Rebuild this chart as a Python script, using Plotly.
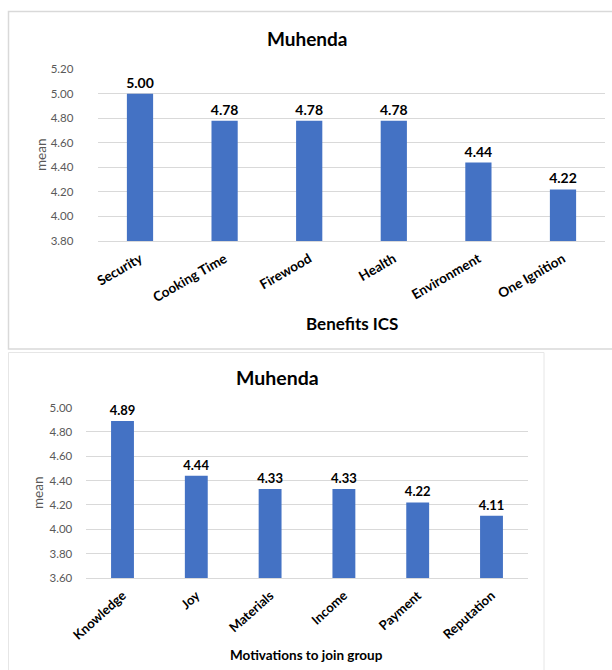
import plotly.graph_objects as go

W, H = 612, 670

# ---- data ----
title_top = "Muhenda"
cats_top = ["Security", "Cooking Time", "Firewood", "Health", "Environment", "One Ignition"]
vals_top = [5.00, 4.78, 4.78, 4.78, 4.44, 4.22]
ticks_top = [3.80, 4.00, 4.20, 4.40, 4.60, 4.80, 5.00, 5.20]
xlabel_top = "Benefits ICS"

title_bot = "Muhenda"
cats_bot = ["Knowledge", "Joy", "Materials", "Income", "Payment", "Reputation"]
vals_bot = [4.89, 4.44, 4.33, 4.33, 4.22, 4.11]
ticks_bot = [3.60, 3.80, 4.00, 4.20, 4.40, 4.60, 4.80, 5.00]
xlabel_bot = "Motivations to join group"

ylabel = "mean"

BAR = "#4472C4"
GRID = "#d9d9d9"
FONT = "Lato, 'DejaVu Sans', sans-serif"


def fx(px):
    return px / W


def fy(py):
    return 1 - py / H


fig = go.Figure()

fig.add_trace(go.Bar(
    x=cats_top, y=vals_top, xaxis="x", yaxis="y",
    marker=dict(color=BAR, line=dict(width=0)), width=0.31,
    text=vals_top, texttemplate="%{y:.2f}", textposition="outside",
    constraintext="none",
    textfont=dict(family=FONT, size=14, color="#000000", weight="bold"),
    cliponaxis=False, showlegend=False, hoverinfo="x+y",
))
fig.add_trace(go.Bar(
    x=cats_bot, y=vals_bot, xaxis="x2", yaxis="y2",
    marker=dict(color=BAR, line=dict(width=0)), width=0.31,
    text=vals_bot, texttemplate="%{y:.2f}", textposition="outside",
    constraintext="none",
    textfont=dict(family=FONT, size=13, color="#000000", weight="bold"),
    cliponaxis=False, showlegend=False, hoverinfo="x+y",
))

xaxis_common = dict(
    type="category", showgrid=False, zeroline=False, automargin=False,
    showline=True, linecolor=GRID, linewidth=1,
    ticks="outside", ticklen=4, tickcolor="rgba(0,0,0,0)", fixedrange=True,
)
yaxis_common = dict(
    showgrid=True, gridcolor=GRID, gridwidth=1, zeroline=False, automargin=False,
    showline=False, ticks="outside", tickcolor="rgba(0,0,0,0)", tickformat=".2f",
)

fig.update_layout(
    width=W, height=H, autosize=False,
    margin=dict(l=0, r=0, t=0, b=0, pad=0),
    paper_bgcolor="white", plot_bgcolor="white",
    bargap=0.69,
    font=dict(family=FONT),
    xaxis=dict(domain=[fx(97.7), fx(605.3)], anchor="y", tickangle=-30,
               tickfont=dict(family=FONT, size=13.5, color="#000000", weight="bold"),
               **xaxis_common),
    yaxis=dict(domain=[fy(241), fy(69.3)], anchor="x",
               range=[3.7995, 5.2005], tickvals=ticks_top, ticklen=21,
               tickfont=dict(family=FONT, size=11.5, color="#595959"),
               **yaxis_common),
    xaxis2=dict(domain=[fx(85.6), fx(528.4)], anchor="y2", tickangle=-42,
                tickfont=dict(family=FONT, size=13, color="#000000", weight="bold"),
                **xaxis_common),
    yaxis2=dict(domain=[fy(578), fy(407.5)], anchor="x2",
                range=[3.5995, 5.0005], tickvals=ticks_bot, ticklen=10,
                tickfont=dict(family=FONT, size=11.5, color="#595959"),
                **yaxis_common),
    shapes=[
        dict(type="rect", xref="paper", yref="paper",
             x0=fx(8.5), x1=fx(630), y0=fy(349), y1=fy(11.5),
             line=dict(color=GRID, width=1.5), fillcolor="rgba(0,0,0,0)", layer="below"),
        dict(type="rect", xref="paper", yref="paper",
             x0=fx(8.5), x1=fx(544), y0=fy(690), y1=fy(352.5),
             line=dict(color="#e6e6e6", width=1), fillcolor="rgba(0,0,0,0)", layer="below"),
    ],
    annotations=[
        dict(text=title_top, xref="paper", yref="paper", x=fx(307), y=fy(38),
             showarrow=False, xanchor="center", yanchor="middle",
             font=dict(family=FONT, size=19, color="#000000", weight="bold")),
        dict(text=title_bot, xref="paper", yref="paper", x=fx(277), y=fy(377),
             showarrow=False, xanchor="center", yanchor="middle",
             font=dict(family=FONT, size=19.5, color="#000000", weight="bold")),
        dict(text=xlabel_top, xref="paper", yref="paper", x=fx(352), y=fy(323),
             showarrow=False, xanchor="center", yanchor="middle",
             font=dict(family=FONT, size=17, color="#000000", weight="bold")),
        dict(text=xlabel_bot, xref="paper", yref="paper", x=fx(306), y=fy(655),
             showarrow=False, xanchor="center", yanchor="middle",
             font=dict(family=FONT, size=13.5, color="#000000", weight="bold")),
        dict(text=ylabel, xref="paper", yref="paper", x=fx(41), y=fy(155),
             showarrow=False, xanchor="center", yanchor="middle", textangle=-90,
             font=dict(family=FONT, size=13.5, color="#595959")),
        dict(text=ylabel, xref="paper", yref="paper", x=fx(38), y=fy(493),
             showarrow=False, xanchor="center", yanchor="middle", textangle=-90,
             font=dict(family=FONT, size=13.5, color="#595959")),
    ],
)

fig.write_html("out.html")
